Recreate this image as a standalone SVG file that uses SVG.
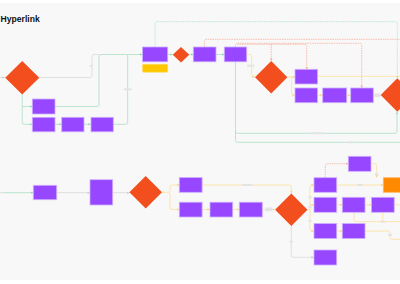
<svg xmlns="http://www.w3.org/2000/svg" width="400" height="284" viewBox="0 0 400 284">
<defs>
<style>
.box{fill:#9747ff;stroke:#cdb0ff;stroke-width:0.8}
.dia{fill:#f24e1e}
.c{fill:none;stroke-width:0.9}
.g{stroke:#b3e2c9}
.gd{stroke:#b3e2c9;stroke-dasharray:1 0.8}
.y{stroke:#fde3a4}
.gr{stroke:#dcdcdc}
.s{stroke:#f6b8a8;stroke-dasharray:1.5 0.9}
.lb{fill:#e4e4e4}
.title{font-family:"Liberation Sans",Arial,sans-serif;font-weight:bold;font-size:8.6px;fill:#111}
</style>
<marker id="ag" viewBox="0 0 4 4" refX="4" refY="2" markerWidth="2.6" markerHeight="2.6" markerUnits="userSpaceOnUse" orient="auto"><path d="M0 0L4 2L0 4z" fill="#9fd8b9"/></marker>
<marker id="ay" viewBox="0 0 4 4" refX="4" refY="2" markerWidth="2.6" markerHeight="2.6" markerUnits="userSpaceOnUse" orient="auto"><path d="M0 0L4 2L0 4z" fill="#f9d68a"/></marker>
<marker id="agr" viewBox="0 0 4 4" refX="4" refY="2" markerWidth="2.6" markerHeight="2.6" markerUnits="userSpaceOnUse" orient="auto"><path d="M0 0L4 2L0 4z" fill="#cfcfcf"/></marker>
<marker id="as" viewBox="0 0 4 4" refX="4" refY="2" markerWidth="2.6" markerHeight="2.6" markerUnits="userSpaceOnUse" orient="auto"><path d="M0 0L4 2L0 4z" fill="#f3a996"/></marker>
</defs>
<rect x="0" y="0" width="400" height="284" fill="#ffffff"/>
<rect x="0" y="3" width="400" height="277" fill="#f8f8f8"/>
<text class="title" x="0.6" y="21.8">Hyperlink</text>

<g id="connectors">
<path class="c gr" d="M0 77.5H5" marker-end="url(#agr)"/>
<path class="c gr" d="M39.3 77.5H90Q92 77.5 92 75.5V56.5Q92 54.5 94 54.5H99"/>
<path class="c g" d="M22.2 94.4V122.3Q22.2 124.3 24.2 124.3H32.3" marker-end="url(#ag)"/>
<path class="c g" d="M22.2 106.5H32.3" marker-end="url(#ag)"/>
<path class="c g" d="M55 106.5H97Q99 106.5 99 104.5V56.5Q99 54.5 101 54.5H142.5" marker-end="url(#ag)"/>
<path class="c g" d="M55 124.3H61.7" marker-end="url(#ag)"/>
<path class="c g" d="M84 124.3H91" marker-end="url(#ag)"/>
<path class="c g" d="M113.3 124.3H125.7Q127.7 124.3 127.7 122.3V54.5"/>
<path class="c g" d="M167.7 54.5H172.7" marker-end="url(#ag)"/>
<path class="c g" d="M189.3 54.5H193.3" marker-end="url(#ag)"/>
<path class="c g" d="M216 54.5H224.3" marker-end="url(#ag)"/>
<path class="c g" d="M235.5 61.8V131.3Q235.5 133.3 237.5 133.3H395Q397 133.3 397 131.3V111.8" marker-end="url(#ag)"/>
<path class="c g" d="M235.5 131V140.3Q235.5 142.3 237.5 142.3H400"/>
<path class="c gd" d="M155 47V23.7Q155 21.7 157 21.7H395.3Q397.3 21.7 397.3 23.7V78.3" marker-end="url(#ag)"/>
<path class="c s" d="M204.5 47V41.3Q204.5 39.3 206.5 39.3H400"/>
<path class="c s" d="M235.5 47V45.3Q235.5 43.3 237.5 43.3H359.7Q361.7 43.3 361.7 45.3V88" marker-end="url(#as)"/>
<path class="c s" d="M237 44.3H304.7Q306.7 44.3 306.7 46.3V69.3" marker-end="url(#as)"/>
<path class="c s" d="M271.2 44.3V61" marker-end="url(#as)"/>
<path class="c y" d="M246.7 54.5H249.7Q251.7 54.5 251.7 56.5V74.7Q251.7 76.7 253.7 76.7H255" marker-end="url(#ay)"/>
<path class="c y" d="M287.4 77H295" marker-end="url(#ay)"/>
<path class="c y" d="M317.5 76.3H400"/>
<path class="c y" d="M289.5 77Q291.7 77 291.7 79V93.3Q291.7 95.3 293.7 95.3H295" marker-end="url(#ay)"/>
<path class="c y" d="M317.5 95.3H322.7" marker-end="url(#ay)"/>
<path class="c y" d="M346.7 95.3H350.7" marker-end="url(#ay)"/>
<path class="c gr" d="M373.3 95.3H380.7" marker-end="url(#agr)"/>
<path class="c gr" d="M0 192.7H3.3"/>
<path class="c g" d="M3.3 192.7H33.3" marker-end="url(#ag)"/>
<path class="c gr" d="M56.7 192.7H90" marker-end="url(#agr)"/>
<path class="c gr" d="M112.7 192.7H129.4" marker-end="url(#agr)"/>
<path class="c y" d="M162 192.3H168Q170 192.3 170 190.3V187Q170 185 172 185H179.3" marker-end="url(#ay)"/>
<path class="c y" d="M168 192.3Q170 192.3 170 194.3V207.5Q170 209.5 172 209.5H179.3" marker-end="url(#ay)"/>
<path class="c y" d="M202.1 185H289.3Q291.3 185 291.3 187V193.5" marker-end="url(#ay)"/>
<path class="c y" d="M202.1 209.5H210" marker-end="url(#ay)"/>
<path class="c y" d="M232.7 209.5H239.3" marker-end="url(#ay)"/>
<path class="c y" d="M262.3 209.5H275.1" marker-end="url(#ay)"/>
<path class="c gr" d="M291.3 225.9V255.3Q291.3 257.3 293.3 257.3H314" marker-end="url(#agr)"/>
<path class="c y" d="M307.5 209.7H310"/>
<path class="c y" d="M310 229V187Q310 185 312 185H314" marker-end="url(#ay)"/>
<path class="c y" d="M310 229Q310 231 312 231H314" marker-end="url(#ay)"/>
<path class="c y" d="M310 204.8H314" marker-end="url(#ay)"/>
<path class="c y" d="M336.7 185H383.3" marker-end="url(#ay)"/>
<path class="c s" d="M325.3 177.7V165.7Q325.3 163.7 327.3 163.7H348.3" marker-end="url(#as)"/>
<path class="c y" d="M371 163.7H374.7Q376.7 163.7 376.7 165.7V177.7" marker-end="url(#ay)"/>
<path class="c y" d="M336.7 204.8H342.3" marker-end="url(#ay)"/>
<path class="c y" d="M365 204.8H371.5" marker-end="url(#ay)"/>
<path class="c y" d="M394.2 204.8H400"/>
<path class="c y" d="M354 212.3V219.7Q354 221.7 356 221.7H400"/>
<path class="c y" d="M382.8 212.3V221.7"/>
<path class="c y" d="M336.7 231H342.3" marker-end="url(#ay)"/>
<path class="c y" d="M365 231H388Q390 231 390 233V237.3Q390 239.3 392 239.3H400"/>
<rect class="lb" x="89.5" y="65" width="3" height="2"/>
<rect class="lb" x="123.7" y="88.3" width="8" height="2"/>
<rect class="lb" x="247" y="64.7" width="7.5" height="2"/>
<rect class="lb" x="374.5" y="93.5" width="5.5" height="3.5"/>
<rect class="lb" x="310" y="132.3" width="13" height="2"/>
<rect class="lb" x="347.5" y="141.3" width="6" height="2"/>
<rect class="lb" x="242" y="184" width="10.5" height="2"/>
<rect class="lb" x="265.5" y="207.5" width="7" height="3.7"/>
<rect class="lb" x="289.5" y="240.7" width="3.5" height="2"/>
<rect class="lb" x="308.3" y="196.3" width="3.5" height="2"/>
<rect class="lb" x="308.3" y="206.3" width="3.5" height="2"/>
<rect class="lb" x="308.3" y="219.7" width="3.5" height="2"/>
<rect class="lb" x="357.5" y="184" width="5" height="2"/>
<rect class="lb" x="374.7" y="173.3" width="4" height="2"/>
<rect class="lb" x="380.5" y="220.7" width="4.5" height="2"/>
<rect class="lb" x="388" y="234" width="4" height="2"/>
</g>

<g id="n-dl"><polygon class="dia" points="22.2,61 39.3,77.7 22.2,94.4 5.2,77.7"/></g>
<g id="n-l1"><rect class="box" x="32.3" y="99" width="22.7" height="15"/></g>
<g id="n-l2"><rect class="box" x="32.3" y="117.3" width="22.7" height="14.5"/></g>
<g id="n-l3"><rect class="box" x="61.7" y="117.3" width="22.3" height="14.5"/></g>
<g id="n-l4"><rect class="box" x="91" y="117.3" width="22.3" height="14.5"/></g>
<g id="n-p1"><rect class="box" x="142.5" y="47" width="25.2" height="14.8"/></g>
<g id="n-note"><rect x="142.5" y="64.3" width="25.2" height="8" rx="1" fill="#ffc700" stroke="#ffdc66" stroke-width="0.6"/></g>
<g id="n-ds"><polygon class="dia" points="181,46.9 189.3,54.7 181,62.5 172.7,54.7"/></g>
<g id="n-p2"><rect class="box" x="193.3" y="47" width="22.7" height="14.8"/></g>
<g id="n-p3"><rect class="box" x="224.3" y="47" width="22.4" height="14.8"/></g>
<g id="n-dm"><polygon class="dia" points="271.2,61 287.4,77.2 271.2,93.4 255,77.2"/></g>
<g id="n-t1"><rect class="box" x="295" y="69.3" width="22.5" height="14.7"/></g>
<g id="n-q"><rect class="box" x="295" y="88" width="22.5" height="14.7"/></g>
<g id="n-r"><rect class="box" x="322.7" y="88" width="24" height="14.7"/></g>
<g id="n-s"><rect class="box" x="350.7" y="88" width="22.6" height="14.7"/></g>
<g id="n-dr"><polygon class="dia" points="397.3,78.3 414,95 397.3,111.8 380.7,95"/></g>

<g id="n-b1"><rect class="box" x="33.3" y="185.3" width="23.4" height="14.4"/></g>
<g id="n-b2"><rect class="box" x="90" y="179.7" width="22.7" height="25.3"/></g>
<g id="n-d2"><polygon class="dia" points="145.7,176 162,192.3 145.7,208.6 129.4,192.3"/></g>
<g id="n-b3"><rect class="box" x="179.3" y="177.5" width="22.8" height="14.8"/></g>
<g id="n-b4"><rect class="box" x="179.3" y="202.2" width="22.8" height="14.8"/></g>
<g id="n-b5"><rect class="box" x="210" y="202.2" width="22.7" height="14.8"/></g>
<g id="n-b6"><rect class="box" x="239.3" y="202.2" width="23" height="14.8"/></g>
<g id="n-d3"><polygon class="dia" points="291.3,193.5 307.5,209.7 291.3,225.9 275.1,209.7"/></g>
<g id="n-b13"><rect class="box" x="348.3" y="156.3" width="22.7" height="15"/></g>
<g id="n-b7"><rect class="box" x="314" y="177.7" width="22.7" height="14.6"/></g>
<g id="n-orange"><rect x="383.3" y="177.7" width="22.7" height="14.6" fill="#ff8a00" stroke="#ffb866" stroke-width="0.8"/></g>
<g id="n-b8"><rect class="box" x="314" y="197.3" width="22.7" height="15"/></g>
<g id="n-b9"><rect class="box" x="342.3" y="197.3" width="22.7" height="15"/></g>
<g id="n-b10"><rect class="box" x="371.5" y="197.3" width="22.7" height="15"/></g>
<g id="n-b11"><rect class="box" x="314" y="223.5" width="22.7" height="15"/></g>
<g id="n-b14"><rect class="box" x="342.3" y="223.5" width="22.7" height="15"/></g>
<g id="n-b12"><rect class="box" x="314" y="250" width="22.7" height="15"/></g>
</svg>
